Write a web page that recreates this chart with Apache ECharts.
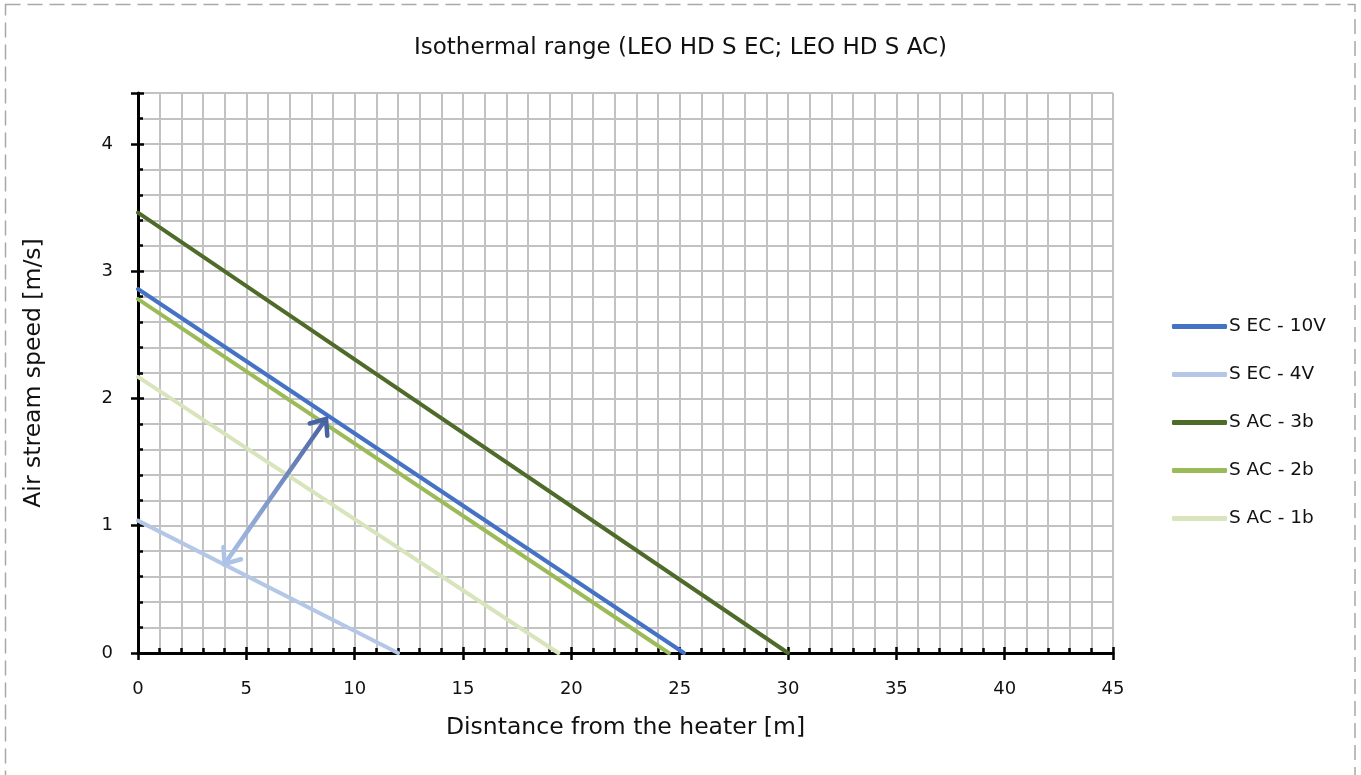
<!DOCTYPE html>
<html>
<head>
<meta charset="utf-8">
<script src="https://cdn.jsdelivr.net/npm/echarts@6/dist/echarts.min.js"></script>
<style>
  html, body { margin: 0; padding: 0; background: #fff; overflow: hidden; }
  #chart { width: 1361px; height: 775px; }
</style>
</head>
<body>
<div id="chart"></div>
<script>
// ---- data ----
const seriesNames = ['S EC - 10V', 'S EC - 4V', 'S AC - 3b', 'S AC - 2b', 'S AC - 1b'];
const sEc10V = [[0, 2.86], [25.2, 0]];
const sEc4V  = [[0, 1.04], [12.0, 0]];
const sAc3b  = [[0, 3.46], [30.0, 0]];
const sAc2b  = [[0, 2.78], [24.5, 0]];
const sAc1b  = [[0, 2.17], [19.4, 0]];
const arrowFrom = [4.0, 0.70];
const arrowTo   = [8.68, 1.84];
const titleText = 'Isothermal range (LEO HD S EC; LEO HD S AC)';
const xName = 'Disntance from the heater [m]';
const yName = 'Air stream speed [m/s]';
const xMin = 0, xMax = 45, xStep = 5;
const yMin = 0, yMax = 4.4, yStep = 1;

const colors = ['#4472c4', '#b4c7e7', '#4f6b2a', '#9bbb59', '#d8e4bc'];
const FONT = 'DejaVu Sans';

const chart = echarts.init(document.getElementById('chart'), null, { renderer: 'canvas' });

const gridCol = '#c2c2c2';
function baseAxis(extra) {
  return Object.assign({
    axisLine: { show: true, onZero: false, lineStyle: { color: '#000', width: 3 } },
    axisTick: { show: true, inside: true, length: 6, lineStyle: { color: '#000', width: 2.5 } },
    minorTick: { show: true, splitNumber: 5, length: 5, lineStyle: { color: '#000', width: 2.5 } },
    splitLine: { show: true, lineStyle: { color: gridCol, width: 2 } },
    minorSplitLine: { show: true, lineStyle: { color: gridCol, width: 2 } },
    nameTextStyle: { color: '#111', fontSize: 23.5, fontFamily: FONT }
  }, extra);
}
function tickOnlyAxis(extra) {
  return Object.assign({
    axisLine: { show: false },
    axisTick: { show: true, inside: false, length: 7, lineStyle: { color: '#000', width: 2.5 } },
    minorTick: { show: false },
    splitLine: { show: false },
    axisLabel: { show: false }
  }, extra);
}

function lineSeries(name, data, color) {
  return {
    name: name, type: 'line', data: data, symbol: 'none', showSymbol: false,
    lineStyle: { color: color, width: 4, cap: 'round' },
    itemStyle: { color: color },
    clip: false, z: 3
  };
}

const option = {
  animation: false,
  backgroundColor: '#fff',
  title: {
    text: titleText, left: 'center', top: 32,
    textStyle: { fontFamily: FONT, fontSize: 23, fontWeight: 'normal', color: '#111' }
  },
  grid: { left: 138, right: 248, top: 93, bottom: 122, containLabel: false },
  legend: {
    data: seriesNames,
    orient: 'vertical', left: 1167, top: 312,
    icon: 'roundRect', itemWidth: 55, itemHeight: 5, itemGap: 29,
    textStyle: { fontFamily: FONT, fontSize: 18.5, color: '#111', padding: [0, 0, 0, -3] }
  },
  xAxis: [
    baseAxis({
      type: 'value', min: xMin, max: xMax, interval: xStep, position: 'bottom',
      name: xName, nameLocation: 'middle', nameGap: 63,
      axisLabel: { color: '#111', fontSize: 18, fontFamily: FONT, margin: 27 }
    }),
    tickOnlyAxis({ type: 'value', min: xMin, max: xMax, interval: xStep, position: 'bottom' })
  ],
  yAxis: [
    baseAxis({
      type: 'value', min: yMin, max: yMax, interval: yStep, position: 'left',
      name: yName, nameLocation: 'middle', nameGap: 92, nameRotate: 90,
      axisLabel: { color: '#111', fontSize: 18, fontFamily: FONT, margin: 25, showMaxLabel: false }
    }),
    tickOnlyAxis({ type: 'value', min: yMin, max: yMax, interval: yStep, position: 'left' })
  ],
  graphic: [{
    type: 'rect', silent: true, z: -10,
    shape: { x: 5.5, y: 4.5, width: 1349.5, height: 900 },
    style: { fill: 'none', stroke: '#a8a8a8', lineWidth: 1.5, lineDash: [15, 7] }
  }],
  series: [
    lineSeries(seriesNames[0], sEc10V, colors[0]),
    lineSeries(seriesNames[1], sEc4V, colors[1]),
    lineSeries(seriesNames[2], sAc3b, colors[2]),
    lineSeries(seriesNames[3], sAc2b, colors[3]),
    lineSeries(seriesNames[4], sAc1b, colors[4]),
    {
      name: 'arrow', type: 'custom', z: 5, clip: false,
      data: [[arrowFrom[0], arrowFrom[1], arrowTo[0], arrowTo[1]]],
      encode: { x: [0, 2], y: [1, 3] },
      renderItem: function (params, api) {
        const p1 = api.coord([api.value(0), api.value(1)]);
        const p2 = api.coord([api.value(2), api.value(3)]);
        const grad = new echarts.graphic.LinearGradient(p1[0], p1[1], p2[0], p2[1], [
          { offset: 0, color: '#adc3e8' },
          { offset: 1, color: '#4863a3' }
        ], true);
        const dx = p2[0] - p1[0], dy = p2[1] - p1[1];
        const ang = Math.atan2(dy, dx);
        const L = 17, spread = Math.PI / 4.6;
        function head(tip, a, col) {
          return {
            type: 'polyline',
            shape: { points: [
              [tip[0] + L * Math.cos(a + spread), tip[1] + L * Math.sin(a + spread)],
              tip,
              [tip[0] + L * Math.cos(a - spread), tip[1] + L * Math.sin(a - spread)]
            ] },
            style: { stroke: col, lineWidth: 4.5, fill: 'none', lineCap: 'round', lineJoin: 'miter' }
          };
        }
        return {
          type: 'group',
          children: [
            { type: 'line', shape: { x1: p1[0], y1: p1[1], x2: p2[0], y2: p2[1] },
              style: { stroke: grad, lineWidth: 4.5, lineCap: 'butt' } },
            head(p2, ang + Math.PI, '#4863a3'),
            head(p1, ang, '#adc3e8')
          ]
        };
      }
    }
  ]
};
chart.setOption(option);
</script>
</body>
</html>
